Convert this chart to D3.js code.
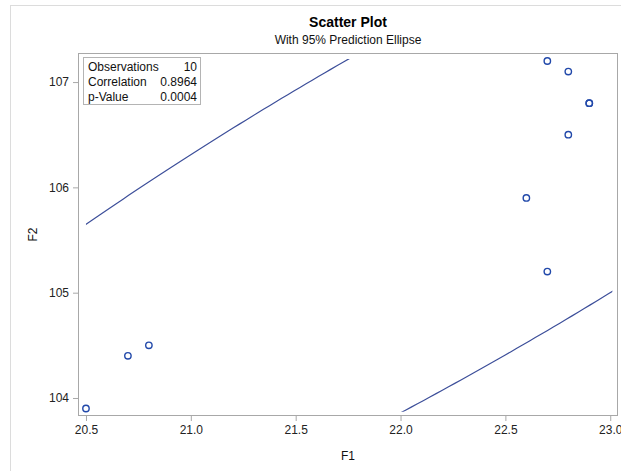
<!DOCTYPE html>
<html>
<head>
<meta charset="utf-8">
<script src="https://cdn.jsdelivr.net/npm/d3@7"></script>
<style>
  html, body { margin: 0; padding: 0; background: #fff; }
  svg { display: block; font-family: "Liberation Sans", Arial, sans-serif; }
</style>
</head>
<body>
<svg id="chart" width="621" height="471"></svg>
<script>
// Observations
const f1 = [20.5, 20.7, 20.8, 22.6, 22.7, 22.7, 22.8, 22.8, 22.9, 22.9];
const f2 = [103.9, 104.4, 104.5, 105.9, 105.2, 107.2, 107.1, 106.5, 106.8, 106.8];

// Axis ticks
const xTicks = [20.5, 21.0, 21.5, 22.0, 22.5, 23.0];
const yTicks = [104, 105, 106, 107];

// Axis extents (data units)
const xDomain = [20.462, 23.037];
const yDomain = [103.829, 107.276];

// Region the ellipse curve is confined to (data units)
const ellipseXClip = [20.5, 23.01];
const ellipseYClip = [103.87, 107.22];

// Statistics shown in the inset table
const statLabels = ["Observations", "Correlation", "p-Value"];
const statValues = ["10", "0.8964", "0.0004"];

(function draw() {
  const svg = d3.select("#chart");

  // Outer graph border
  svg.append("rect")
    .attr("x", 10.5).attr("y", 5.5)
    .attr("width", 700).attr("height", 600)
    .attr("fill", "none").attr("stroke", "#dcdcdc");

  const pl = 78, pr = 618, pt = 53, pb = 416;

  const x = d3.scaleLinear().domain(xDomain).range([pl, pr]);
  const y = d3.scaleLinear().domain(yDomain).range([pb, pt]);

  // Titles
  svg.append("text")
    .attr("x", (pl + pr) / 2).attr("y", 27)
    .attr("text-anchor", "middle")
    .attr("font-size", 14).attr("font-weight", "bold").attr("fill", "#000")
    .text("Scatter Plot");
  svg.append("text")
    .attr("x", (pl + pr) / 2).attr("y", 44)
    .attr("text-anchor", "middle")
    .attr("font-size", 12).attr("fill", "#111")
    .text("With 95% Prediction Ellipse");

  // Axes
  const axisColor = "#a8a8a8";
  const xAxis = svg.append("g")
    .attr("transform", `translate(0,${pb})`)
    .call(d3.axisBottom(x).tickValues(xTicks).tickFormat(d3.format(".1f")).tickSizeInner(5).tickSizeOuter(0).tickPadding(4));
  const yAxis = svg.append("g")
    .attr("transform", `translate(${pl},0)`)
    .call(d3.axisLeft(y).tickValues(yTicks).tickFormat(d3.format("d")).tickSizeInner(5).tickSizeOuter(0).tickPadding(4));
  [xAxis, yAxis].forEach(g => {
    g.select(".domain").remove();
    g.selectAll(".tick line").attr("stroke", axisColor);
    g.selectAll(".tick text")
      .attr("font-size", 12).attr("fill", "#222")
      .attr("font-family", "'Liberation Sans', Arial, sans-serif");
  });

  // Plot frame
  svg.append("rect")
    .attr("x", pl + 0.5).attr("y", pt + 0.5)
    .attr("width", pr - pl - 1).attr("height", pb - pt - 1)
    .attr("fill", "none").attr("stroke", axisColor);

  // Axis labels
  svg.append("text")
    .attr("x", (pl + pr) / 2).attr("y", 460)
    .attr("text-anchor", "middle").attr("font-size", 12).attr("fill", "#111")
    .text("F1");
  svg.append("text")
    .attr("transform", `translate(37,${(pt + pb) / 2}) rotate(-90)`)
    .attr("text-anchor", "middle").attr("font-size", 12).attr("fill", "#111")
    .text("F2");

  // 95% prediction ellipse from sample mean and covariance
  const n = f1.length;
  const mx = d3.mean(f1), my = d3.mean(f2);
  let sxx = 0, syy = 0, sxy = 0;
  for (let i = 0; i < n; i++) {
    const dx = f1[i] - mx, dy = f2[i] - my;
    sxx += dx * dx; syy += dy * dy; sxy += dx * dy;
  }
  sxx /= (n - 1); syy /= (n - 1); sxy /= (n - 1);
  // F(0.95; 2, n-2) for n = 10
  const fCrit = 4.4590;
  const c2 = 2 * (n - 1) * (n + 1) / (n * (n - 2)) * fCrit;
  // Cholesky factor of the covariance matrix
  const l11 = Math.sqrt(sxx), l21 = sxy / l11, l22 = Math.sqrt(syy - l21 * l21);
  const rad = Math.sqrt(c2);
  const ellipsePts = d3.range(0, 721).map(k => {
    const t = k / 720 * 2 * Math.PI;
    const u = rad * Math.cos(t), v = rad * Math.sin(t);
    return [mx + l11 * u, my + l21 * u + l22 * v];
  });

  const clipId = "ellipse-clip";
  svg.append("clipPath").attr("id", clipId)
    .append("rect")
    .attr("x", x(ellipseXClip[0])).attr("y", y(ellipseYClip[1]))
    .attr("width", x(ellipseXClip[1]) - x(ellipseXClip[0]))
    .attr("height", y(ellipseYClip[0]) - y(ellipseYClip[1]));

  svg.append("path")
    .datum(ellipsePts)
    .attr("clip-path", `url(#${clipId})`)
    .attr("fill", "none")
    .attr("stroke", "#3d4f9a")
    .attr("stroke-width", 1.2)
    .attr("d", d3.line().x(d => x(d[0])).y(d => y(d[1])));

  // Markers
  svg.append("g").selectAll("circle")
    .data(f1.map((v, i) => [v, f2[i]]))
    .join("circle")
    .attr("cx", d => x(d[0])).attr("cy", d => y(d[1]))
    .attr("r", 3.2)
    .attr("fill", "none")
    .attr("stroke", "#2249aa")
    .attr("stroke-width", 1.4);

  // Inset statistics table
  const box = svg.append("g");
  box.append("rect")
    .attr("x", 83.5).attr("y", 57.5).attr("width", 117).attr("height", 47)
    .attr("fill", "#fff").attr("stroke", "#b4b4b4");
  statLabels.forEach((lab, i) => {
    box.append("text")
      .attr("x", 88).attr("y", 71 + i * 15)
      .attr("font-size", 12).attr("fill", "#111")
      .text(lab);
    box.append("text")
      .attr("x", 197).attr("y", 71 + i * 15)
      .attr("text-anchor", "end")
      .attr("font-size", 12).attr("fill", "#111")
      .text(statValues[i]);
  });
})();
</script>
</body>
</html>
